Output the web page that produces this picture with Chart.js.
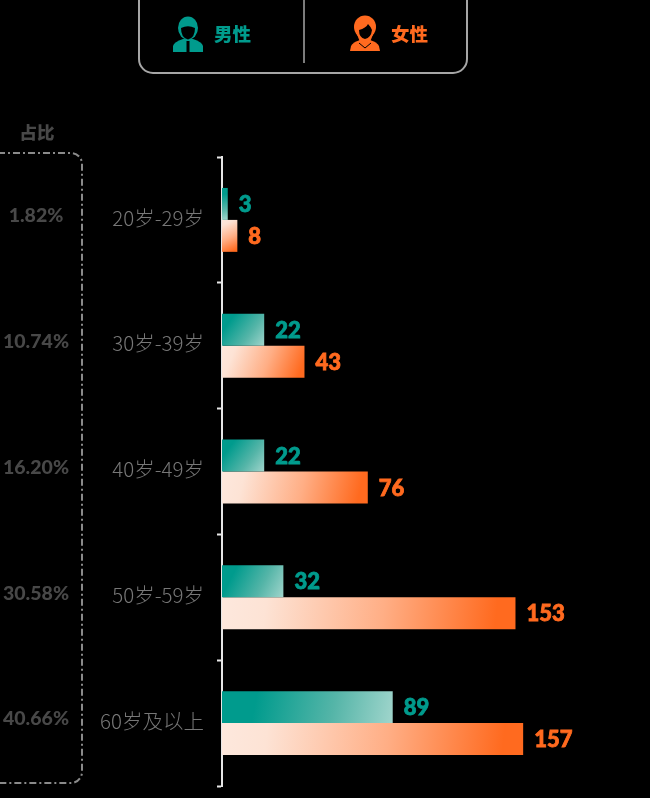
<!DOCTYPE html>
<html><head><meta charset="utf-8">
<style>html,body{margin:0;padding:0;background:#000;}canvas{display:block;}</style>
<script src="https://cdn.jsdelivr.net/npm/chart.js@4/dist/chart.umd.min.js"></script>
</head><body><canvas id="c" width="650" height="798"></canvas>
<script>
const categories = ['20岁-29岁','30岁-39岁','40岁-49岁','50岁-59岁','60岁及以上'];
const maleValues = [3,22,22,32,89];
const femaleValues = [8,43,76,153,157];
const shareLabels = ['1.82%','10.74%','16.20%','30.58%','40.66%'];
const shareTitle = '占比';
const maleName = '男性';
const femaleName = '女性';
const TEAL='#009b8d', ORANGE='#ff6a1f', GREY='#484848';
const NUM_FONT='"Lato","Inter",sans-serif';
const CJK='"Noto Sans CJK SC","Noto Sans",sans-serif';
const GROUP_SHARE=0.508;

function barGradient(c, stops){
  const chart=c.chart, xs=chart.scales.x, ys=chart.scales.y;
  if(!xs||!ys||!c.parsed) return stops[0][1];
  const band=(ys.bottom-ys.top)/categories.length*GROUP_SHARE/2;
  const yc=ys.getPixelForValue(c.dataIndex);
  const y0=yc+(c.datasetIndex-1)*band, y1=y0+band;
  const x0=xs.getPixelForValue(0), x1=xs.getPixelForValue(c.parsed.x);
  if(![x0,x1,y0,y1].every(Number.isFinite)) return stops[0][1];
  const g=chart.ctx.createLinearGradient(x0,y0,x1,y1);
  stops.forEach(s=>g.addColorStop(s[0],s[1]));
  return g;
}
const tealStops=[[0,'#009b8d'],[0.2,'#009b8d'],[0.65,'#55b5a8'],[1,'#a0d5cc']];
const orangeStops=[[0,'#fde8dd'],[0.15,'#fde3d5'],[0.55,'#ffae85'],[0.93,'#ff6a1f'],[1,'#ff6a1f']];

function roundedOpenBox(ctx,l,t,r,b,rad){
  ctx.beginPath();ctx.moveTo(l,t);ctx.lineTo(r-rad,t);ctx.arcTo(r,t,r,t+rad,rad);
  ctx.lineTo(r,b-rad);ctx.arcTo(r,b,r-rad,b,rad);ctx.lineTo(l,b);ctx.stroke();
}
function maleIcon(ctx,x){
  ctx.fillStyle=TEAL;
  ctx.beginPath();ctx.moveTo(x-15,52);ctx.lineTo(x-15,46);ctx.quadraticCurveTo(x-14,42,x-5,39);ctx.lineTo(x+5,39);ctx.quadraticCurveTo(x+14,42,x+15,46);ctx.lineTo(x+15,52);ctx.closePath();ctx.fill();
  ctx.beginPath();ctx.ellipse(x,28,10,11.5,0,0,Math.PI*2);ctx.fill();
  ctx.fillStyle='#000';
  ctx.beginPath();ctx.moveTo(x-7,28);ctx.quadraticCurveTo(x,24.5,x+7,28);ctx.quadraticCurveTo(x+7,38,x,39.5);ctx.quadraticCurveTo(x-7,38,x-7,28);ctx.fill();
  ctx.fillRect(x-1.5,41,3,11);
}
function femaleIcon(ctx,x){
  ctx.fillStyle=ORANGE;
  ctx.beginPath();ctx.moveTo(x-15,51);ctx.lineTo(x-14,46);ctx.quadraticCurveTo(x-12,42,x-5,40);ctx.lineTo(x+5,40);ctx.quadraticCurveTo(x+12,42,x+14,46);ctx.lineTo(x+15,51);ctx.closePath();ctx.fill();
  ctx.beginPath();ctx.ellipse(x,27,11,11.5,0,0,Math.PI*2);ctx.fill();
  ctx.beginPath();ctx.moveTo(x-9,32);ctx.lineTo(x-5,42);ctx.lineTo(x+5,42);ctx.lineTo(x+9,32);ctx.fill();
  ctx.fillStyle='#000';
  ctx.beginPath();ctx.moveTo(x-6,30);ctx.quadraticCurveTo(x+1,28,x+3,24);ctx.quadraticCurveTo(x+6,27,x+7,30);ctx.quadraticCurveTo(x+6,38,x,39);ctx.quadraticCurveTo(x-6,38,x-6,30);ctx.fill();
  ctx.strokeStyle='#000';ctx.lineWidth=1;
  ctx.beginPath();ctx.moveTo(x-6,43);ctx.lineTo(x,48);ctx.lineTo(x+6,43);ctx.stroke();
}
const decor={
  id:'decor',
  afterDraw(chart){
    const ctx=chart.ctx, ys=chart.scales.y;
    ctx.save();
    ctx.strokeStyle='#a6a6a6';ctx.lineWidth=2;
    ctx.beginPath();ctx.moveTo(139,-2);ctx.lineTo(139,59);ctx.arcTo(139,73,153,73,14);ctx.lineTo(453,73);ctx.arcTo(467,73,467,59,14);ctx.lineTo(467,-2);ctx.stroke();
    ctx.lineWidth=1.5;ctx.beginPath();ctx.moveTo(304,-2);ctx.lineTo(304,63);ctx.stroke();
    maleIcon(ctx,188);femaleIcon(ctx,365);
    ctx.font='900 18.5px '+CJK;ctx.textBaseline='middle';ctx.textAlign='left';
    ctx.fillStyle=TEAL;ctx.fillText(maleName,214,34);
    ctx.fillStyle=ORANGE;ctx.fillText(femaleName,391,34);
    ctx.textAlign='center';ctx.fillStyle=GREY;
    ctx.font='900 17.5px '+CJK;ctx.fillText(shareTitle,37,132);
    ctx.strokeStyle='#8a8a8a';ctx.lineWidth=2;ctx.setLineDash([7,3,2,3]);
    roundedOpenBox(ctx,-2,153,82,783,11);
    ctx.setLineDash([]);
    ctx.font='900 19.5px '+NUM_FONT;ctx.fillStyle=GREY;
    shareLabels.forEach((s,i)=>ctx.fillText(s,36,ys.getPixelForValue(i)-4));
    ctx.font='900 22px '+NUM_FONT;ctx.textAlign='left';ctx.lineWidth=0.8;
    chart.data.datasets.forEach((d,di)=>{
      ctx.fillStyle=di===0?TEAL:ORANGE;
      ctx.strokeStyle=ctx.fillStyle;
      chart.getDatasetMeta(di).data.forEach((el,i)=>{
        ctx.fillText(String(d.data[i]),el.x+11,el.y+1);
        ctx.strokeText(String(d.data[i]),el.x+11,el.y+1);
      });
    });
    ctx.restore();
  }
};
new Chart(document.getElementById('c'),{
  type:'bar',
  data:{labels:categories,datasets:[
    {label:maleName,data:maleValues,backgroundColor:c=>barGradient(c,tealStops)},
    {label:femaleName,data:femaleValues,backgroundColor:c=>barGradient(c,orangeStops)}
  ]},
  options:{
    indexAxis:'y',responsive:false,animation:false,
    layout:{padding:{top:157,bottom:12,left:0,right:6}},
    datasets:{bar:{categoryPercentage:GROUP_SHARE,barPercentage:1,borderWidth:0}},
    plugins:{legend:{display:false},tooltip:{enabled:false}},
    scales:{
      x:{display:false,min:0,max:220},
      y:{
        afterFit(s){s.width=222;s.paddingTop=0;s.paddingBottom=0;},
        border:{display:true,color:'#e6e6e6',width:2},
        grid:{display:true,drawOnChartArea:false,drawTicks:true,tickLength:5,tickWidth:2,tickColor:'#e6e6e6',color:'#e6e6e6'},
        ticks:{color:'#777777',padding:13,labelOffset:-2,font:{family:CJK,size:20.5,weight:'300'}}
      }
    }
  },
  plugins:[decor]
});
</script></body></html>
